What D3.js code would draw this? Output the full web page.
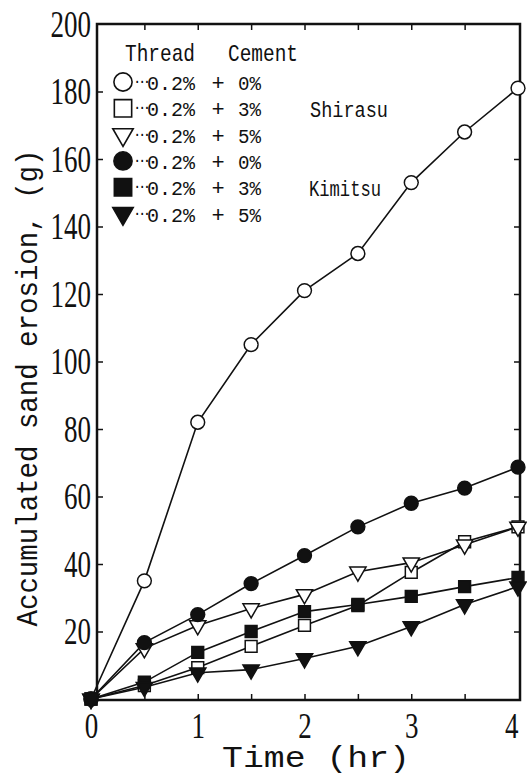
<!DOCTYPE html>
<html>
<head>
<meta charset="utf-8">
<script src="https://cdn.jsdelivr.net/npm/d3@7/dist/d3.min.js"></script>
<style>
body{margin:0;background:#fff;}
</style>
</head>
<body>
<svg id="chart"></svg>
<script>
// values
var times = [0, 0.5, 1, 1.5, 2, 2.5, 3, 3.5, 4];
var shirasu0 = [0, 35, 82, 105, 121, 132, 153, 168, 181];
var shirasu3 = [0, 4, 9.3, 15.6, 21.8, 27.7, 37.5, 46.6, 51];
var shirasu5 = [0, 15, 21.8, 26.8, 31, 37.7, 40.4, 45.7, 51];
var kimitsu0 = [0, 16.7, 25, 34.2, 42.5, 51, 58, 62.5, 68.7];
var kimitsu3 = [0, 5, 13.8, 20, 25.9, 28, 30.4, 33.3, 36];
var kimitsu5 = [0, 3.5, 7.8, 8.7, 12, 15.6, 21.5, 28, 33.3];

var xTicks = [0, 1, 2, 3, 4];
var xMinorTicks = [0.5, 1, 1.5, 2, 2.5, 3, 3.5];
var yTicks = [20, 40, 60, 80, 100, 120, 140, 160, 180, 200];
var threadPct = "0.2%";
var cementPct = ["0%", "3%", "5%", "0%", "3%", "5%"];
var soilNames = ["Shirasu", "Kimitsu"];

var width = 527;
var height = 775;
var svg = d3.select("#chart").attr("width", width).attr("height", height);

var frame = {left: 97, right: 520, top: 24, bottom: 700};
var x = d3.scaleLinear().domain([0, 4]).range([91, 518]);
var y = d3.scaleLinear().domain([0, 200]).range([699, 24]);

var series = [shirasu0, shirasu3, shirasu5, kimitsu0, kimitsu3, kimitsu5];
var symbols = [d3.symbolCircle, d3.symbolSquare, d3.symbolTriangle,
               d3.symbolCircle, d3.symbolSquare, d3.symbolTriangle];
var plotSize = [150, 140, 115, 150, 140, 115];
var legSize = [260, 300, 180, 260, 300, 180];
function isFilled(i){ return i >= 3; }
function rot(i){ return symbols[i] === d3.symbolTriangle ? " rotate(180)" : ""; }

// frame
svg.append("rect")
  .attr("x", frame.left).attr("y", frame.top)
  .attr("width", frame.right - frame.left)
  .attr("height", frame.bottom - frame.top)
  .attr("fill", "none").attr("stroke", "#111").attr("stroke-width", 2.5);

// inward tick marks
svg.append("g").attr("transform", "translate(" + frame.left + ",0)")
  .call(d3.axisLeft(y).tickValues(yTicks.slice(0, -1)).tickSize(-6).tickFormat(""));
svg.append("g").attr("transform", "translate(" + frame.right + ",0)")
  .call(d3.axisRight(y).tickValues(yTicks.slice(0, -1)).tickSize(-6).tickFormat(""));
svg.append("g").attr("transform", "translate(0," + frame.bottom + ")")
  .call(d3.axisBottom(x).tickValues(xMinorTicks).tickSize(-6).tickFormat(""));
svg.append("g").attr("transform", "translate(0," + frame.top + ")")
  .call(d3.axisTop(x).tickValues(xMinorTicks).tickSize(-6).tickFormat(""));
svg.selectAll(".domain").remove();
svg.selectAll(".tick line").attr("stroke", "#111").attr("stroke-width", 1.5);

// tick labels
var yLab = svg.append("g").attr("transform", "translate(" + frame.left + ",0)")
  .call(d3.axisLeft(y).tickValues(yTicks).tickSize(0).tickPadding(6).tickFormat(d3.format("d")));
var xLab = svg.append("g").attr("transform", "translate(0," + frame.bottom + ")")
  .call(d3.axisBottom(x).tickValues(xTicks).tickSize(0).tickPadding(13).tickFormat(d3.format("d")));
yLab.select(".domain").remove();
xLab.select(".domain").remove();
yLab.attr("font-size", 38);
xLab.attr("font-size", 35);
[yLab, xLab].forEach(function(g){
  g.attr("font-family", "'Liberation Serif', serif");
  g.selectAll(".tick text")
    .attr("fill", "#111")
    .attr("textLength", function(d){ return String(d).length * 13.5; })
    .attr("lengthAdjust", "spacingAndGlyphs");
});
xLab.selectAll(".tick text").filter(function(d){ return d === 4; })
  .attr("text-anchor", "end").attr("dx", 0);

// lines
var line = d3.line()
  .x(function(d, i){ return x(times[i]); })
  .y(function(d){ return y(d); });
series.forEach(function(s){
  svg.append("path")
    .attr("fill", "none")
    .attr("stroke", "#111")
    .attr("stroke-width", 1.6)
    .attr("d", line(s));
});

// markers, open ones first
[0, 1, 2, 3, 4, 5].forEach(function(k){
  svg.append("g").selectAll("path")
    .data(series[k])
    .enter()
    .append("path")
    .attr("d", d3.symbol().type(symbols[k]).size(plotSize[k]))
    .attr("transform", function(d, i){ return "translate(" + x(times[i]) + "," + y(d) + ")" + rot(k); })
    .attr("fill", isFilled(k) ? "#111" : "#fff")
    .attr("stroke", "#111")
    .attr("stroke-width", 1.5);
});

// legend
var leg = svg.append("g").attr("font-family", "'Liberation Mono', monospace").attr("fill", "#111");
leg.append("text").attr("x", 125).attr("y", 61).attr("font-size", 24)
  .attr("textLength", 70).attr("lengthAdjust", "spacingAndGlyphs").text("Thread");
leg.append("text").attr("x", 228).attr("y", 61).attr("font-size", 24)
  .attr("textLength", 70).attr("lengthAdjust", "spacingAndGlyphs").text("Cement");

cementPct.forEach(function(c, i){
  var cy = 82 + 26.3 * i;
  leg.append("path")
    .attr("d", d3.symbol().type(symbols[i]).size(legSize[i]))
    .attr("transform", "translate(123," + cy + ")" + rot(i))
    .attr("fill", isFilled(i) ? "#111" : "#fff")
    .attr("stroke", "#111").attr("stroke-width", 1.6);
  leg.append("text").attr("x", 133).attr("y", cy + 4).attr("font-size", 14)
    .attr("letter-spacing", -3.5).text("\u00b7\u00b7\u00b7");
  leg.append("text").attr("x", 147).attr("y", cy + 8).attr("font-size", 20)
    .attr("textLength", 48).attr("lengthAdjust", "spacingAndGlyphs").text(threadPct);
  leg.append("text").attr("x", 218).attr("y", cy + 8).attr("font-size", 22)
    .attr("text-anchor", "middle").text("+");
  leg.append("text").attr("x", 238).attr("y", cy + 8).attr("font-size", 20)
    .attr("textLength", 23).attr("lengthAdjust", "spacingAndGlyphs").text(c);
});

leg.append("text").attr("x", 310).attr("y", 117).attr("font-size", 22)
  .attr("textLength", 78).attr("lengthAdjust", "spacingAndGlyphs").text(soilNames[0]);
leg.append("text").attr("x", 309).attr("y", 196).attr("font-size", 22)
  .attr("textLength", 72).attr("lengthAdjust", "spacingAndGlyphs").text(soilNames[1]);

// axis titles
svg.append("text")
  .attr("transform", "translate(37,388) rotate(-90)")
  .attr("text-anchor", "middle")
  .attr("font-family", "'Liberation Mono', monospace")
  .attr("font-size", 29)
  .attr("fill", "#111")
  .attr("textLength", 477).attr("lengthAdjust", "spacingAndGlyphs")
  .text("Accumulated sand erosion, (g)");
svg.append("text")
  .attr("x", 222).attr("y", 767)
  .attr("font-family", "'Liberation Mono', monospace")
  .attr("font-size", 30)
  .attr("fill", "#111")
  .attr("textLength", 188).attr("lengthAdjust", "spacingAndGlyphs")
  .text("Time (hr)");
</script>
</body>
</html>
